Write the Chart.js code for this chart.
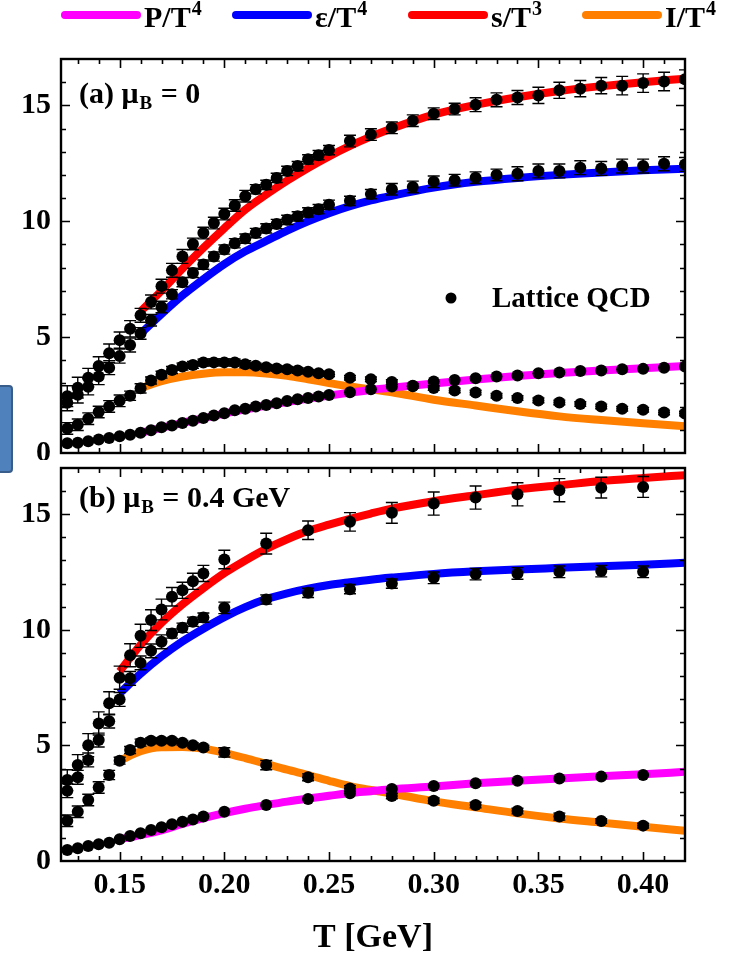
<!DOCTYPE html>
<html>
<head>
<meta charset="utf-8">
<script src="https://cdn.jsdelivr.net/npm/chart.js@4.4.1/dist/chart.umd.min.js"></script>
<style>
  html, body { margin: 0; padding: 0; background: #fff; }
  body { width: 733px; height: 955px; position: relative; overflow: hidden; }
  #c1 { position: absolute; left: 0; top: 0; }
  #c2 { position: absolute; left: 0; top: 460px; }
  #box { position: absolute; left: -6px; top: 385px; width: 15px; height: 84px;
         background: #4f81bd; border: 2px solid #385d8a; border-radius: 4px; z-index: 5; }
</style>
</head>
<body>
<canvas id="c1" width="733" height="460"></canvas>
<canvas id="c2" width="733" height="495"></canvas>
<div id="box"></div>
<script>
// ---------------- DATA ----------------
const xTickValues = [0.15, 0.20, 0.25, 0.30, 0.35, 0.40];
const xTickLabels = ['0.15', '0.20', '0.25', '0.30', '0.35', '0.40'];
const yTickValues = [0, 5, 10, 15];
const yTickLabels = ['0', '5', '10', '15'];
const seriesBase = ['P/T', 'ε/T', 's/T', 'I/T'];
const seriesSup  = ['4', '4', '3', '4'];
const axisTitle = 'T [GeV]';
const latticeLabel = 'Lattice QCD';

// Panel (a): mu_B = 0  -- lattice points
const tLatA = [0.125, 0.13, 0.135, 0.14, 0.145, 0.15, 0.155, 0.16, 0.165, 0.17, 0.175, 0.18, 0.185, 0.19, 0.195,
               0.20, 0.205, 0.21, 0.215, 0.22, 0.225, 0.23, 0.235, 0.24, 0.245, 0.25, 0.26, 0.27, 0.28, 0.29,
               0.30, 0.31, 0.32, 0.33, 0.34, 0.35, 0.36, 0.37, 0.38, 0.39, 0.40, 0.41, 0.42];
const sLatA = [2.45, 2.82, 3.25, 3.75, 4.30, 4.87, 5.36, 5.94, 6.52, 7.20, 7.88, 8.48, 9.02, 9.49, 9.92,
               10.31, 10.68, 11.08, 11.38, 11.57, 11.87, 12.17, 12.38, 12.67, 12.85, 13.07, 13.46, 13.74, 14.03, 14.34,
               14.64, 14.84, 15.03, 15.24, 15.34, 15.43, 15.65, 15.72, 15.85, 15.85, 15.96, 16.03, 16.13];
const eLatA = [2.17, 2.51, 2.86, 3.30, 3.68, 4.18, 4.66, 5.16, 5.73, 6.30, 6.85, 7.37, 7.77, 8.13, 8.48,
               8.78, 9.05, 9.25, 9.49, 9.69, 9.88, 10.06, 10.21, 10.38, 10.52, 10.71, 10.88, 11.17, 11.38, 11.48,
               11.70, 11.77, 11.88, 12.00, 12.05, 12.17, 12.17, 12.31, 12.28, 12.38, 12.38, 12.48, 12.45];
const iLatA = [1.06, 1.22, 1.48, 1.77, 2.01, 2.25, 2.47, 2.79, 3.13, 3.38, 3.58, 3.73, 3.80, 3.90, 3.91,
               3.91, 3.90, 3.83, 3.76, 3.70, 3.65, 3.61, 3.56, 3.51, 3.44, 3.40, 3.25, 3.18, 3.06, 2.90,
               2.80, 2.70, 2.61, 2.47, 2.37, 2.27, 2.18, 2.11, 2.01, 1.91, 1.87, 1.75, 1.70];
const pLatA = [0.42, 0.44, 0.51, 0.58, 0.65, 0.72, 0.79, 0.87, 0.98, 1.11, 1.19, 1.29, 1.39, 1.51, 1.62,
               1.72, 1.84, 1.91, 2.01, 2.07, 2.15, 2.24, 2.32, 2.37, 2.44, 2.50, 2.62, 2.75, 2.87, 2.88,
               3.08, 3.15, 3.23, 3.30, 3.34, 3.44, 3.47, 3.54, 3.56, 3.61, 3.63, 3.68, 3.73];
const sErrA = [0.45, 0.45, 0.40, 0.40, 0.40, 0.35, 0.35, 0.30, 0.30, 0.30, 0.30, 0.30, 0.25, 0.25, 0.25,
               0.25, 0.25, 0.25, 0.20, 0.20, 0.20, 0.20, 0.20, 0.20, 0.20, 0.20, 0.25, 0.25, 0.25, 0.25,
               0.25, 0.25, 0.30, 0.30, 0.30, 0.35, 0.35, 0.35, 0.35, 0.40, 0.40, 0.40, 0.40];
const eErrA = [0.35, 0.35, 0.35, 0.35, 0.30, 0.30, 0.30, 0.25, 0.25, 0.25, 0.20, 0.20, 0.20, 0.20, 0.20,
               0.20, 0.20, 0.20, 0.20, 0.20, 0.20, 0.20, 0.20, 0.20, 0.20, 0.20, 0.20, 0.20, 0.25, 0.25,
               0.25, 0.25, 0.25, 0.25, 0.30, 0.30, 0.30, 0.30, 0.30, 0.30, 0.30, 0.30, 0.30];
const iErrA = [0.25, 0.25, 0.25, 0.25, 0.25, 0.25, 0.20, 0.20, 0.15, 0.15, 0.15, 0.15, 0.15, 0.15, 0.15,
               0.15, 0.15, 0.15, 0.12, 0.12, 0.12, 0.12, 0.12, 0.10, 0.10, 0.10, 0.10, 0.10, 0.10, 0.10,
               0.10, 0.10, 0.10, 0.10, 0.10, 0.10, 0.10, 0.10, 0.10, 0.10, 0.10, 0.10, 0.10];

// Panel (a): model curves
const tModA = [0.16, 0.17, 0.18, 0.19, 0.20, 0.21, 0.22, 0.23, 0.24, 0.25, 0.26, 0.27, 0.28, 0.30, 0.32, 0.34, 0.36, 0.38, 0.40, 0.42];
const sModA = [6.10, 7.00, 7.95, 8.85, 9.70, 10.50, 11.15, 11.75, 12.30, 12.80, 13.25, 13.65, 14.00, 14.60, 15.02, 15.35, 15.62, 15.83, 16.00, 16.15];
const eModA = [5.15, 6.00, 6.80, 7.50, 8.15, 8.70, 9.15, 9.60, 10.00, 10.35, 10.65, 10.90, 11.10, 11.45, 11.70, 11.87, 12.00, 12.10, 12.20, 12.27];
const iModA = [2.80, 3.10, 3.30, 3.42, 3.48, 3.48, 3.43, 3.33, 3.18, 3.02, 2.87, 2.75, 2.62, 2.30, 2.05, 1.80, 1.58, 1.42, 1.28, 1.15];
const pModA = [0.87, 1.08, 1.30, 1.50, 1.70, 1.88, 2.05, 2.20, 2.35, 2.48, 2.60, 2.72, 2.82, 3.00, 3.17, 3.32, 3.45, 3.56, 3.66, 3.75];

// Panel (b): mu_B = 0.4 GeV -- lattice points
const tLatB = [0.125, 0.13, 0.135, 0.14, 0.145, 0.15, 0.155, 0.16, 0.165, 0.17, 0.175, 0.18, 0.185, 0.19,
               0.20, 0.22, 0.24, 0.26, 0.28, 0.30, 0.32, 0.34, 0.36, 0.38, 0.40];
const sLatB = [3.50, 4.15, 5.01, 5.95, 6.82, 7.93, 8.90, 9.74, 10.42, 10.88, 11.43, 11.71, 12.10, 12.44,
               13.04, 13.73, 14.31, 14.67, 15.06, 15.46, 15.72, 15.86, 16.04, 16.15, 16.18];
const eLatB = [3.04, 3.62, 4.37, 5.23, 6.05, 6.99, 7.90, 8.57, 9.09, 9.48, 9.84, 10.09, 10.35, 10.53,
               10.95, 11.31, 11.60, 11.76, 12.00, 12.25, 12.41, 12.44, 12.51, 12.54, 12.51];
const iLatB = [1.74, 2.13, 2.64, 3.18, 3.72, 4.34, 4.80, 5.12, 5.20, 5.20, 5.20, 5.12, 5.01, 4.91,
               4.70, 4.15, 3.62, 3.14, 2.81, 2.61, 2.42, 2.16, 1.92, 1.73, 1.53];
const pLatB = [0.48, 0.55, 0.65, 0.72, 0.79, 0.94, 1.08, 1.20, 1.34, 1.46, 1.59, 1.70, 1.80, 1.92,
               2.13, 2.42, 2.68, 2.93, 3.11, 3.24, 3.36, 3.47, 3.57, 3.65, 3.72];
const sErrB = [0.45, 0.45, 0.50, 0.50, 0.50, 0.50, 0.50, 0.50, 0.45, 0.45, 0.40, 0.35, 0.35, 0.35,
               0.40, 0.45, 0.40, 0.40, 0.45, 0.50, 0.50, 0.50, 0.50, 0.45, 0.45];
const eErrB = [0.30, 0.30, 0.30, 0.30, 0.30, 0.30, 0.30, 0.30, 0.30, 0.30, 0.20, 0.20, 0.20, 0.20,
               0.25, 0.20, 0.20, 0.20, 0.20, 0.25, 0.25, 0.25, 0.25, 0.25, 0.25];
const iErrB = [0.25, 0.25, 0.25, 0.25, 0.20, 0.15, 0.15, 0.15, 0.12, 0.12, 0.10, 0.10, 0.10, 0.10,
               0.20, 0.20, 0.15, 0.12, 0.12, 0.12, 0.12, 0.12, 0.15, 0.10, 0.10];

// Panel (b): model curves
const tModB = [0.15, 0.16, 0.17, 0.18, 0.19, 0.20, 0.21, 0.22, 0.23, 0.24, 0.25, 0.26, 0.27, 0.28, 0.30, 0.32, 0.34, 0.36, 0.38, 0.40, 0.42];
const sModB = [8.20, 9.35, 10.30, 11.10, 11.80, 12.45, 13.00, 13.50, 13.92, 14.28, 14.55, 14.80, 15.03, 15.24, 15.56, 15.82, 16.07, 16.25, 16.44, 16.57, 16.69];
const eModB = [7.25, 8.10, 8.85, 9.50, 10.05, 10.55, 10.98, 11.33, 11.58, 11.78, 11.94, 12.06, 12.17, 12.26, 12.42, 12.53, 12.61, 12.68, 12.75, 12.82, 12.90];
const iModB = [4.34, 4.75, 4.92, 4.93, 4.86, 4.68, 4.45, 4.20, 3.95, 3.72, 3.47, 3.24, 3.07, 2.92, 2.58, 2.32, 2.06, 1.84, 1.66, 1.48, 1.31];
const pModB = [0.94, 1.12, 1.32, 1.60, 1.85, 2.07, 2.26, 2.42, 2.57, 2.70, 2.82, 2.94, 3.02, 3.10, 3.22, 3.36, 3.47, 3.57, 3.67, 3.75, 3.86];

// ---------------- STYLE ----------------
const FONT = '"Liberation Serif", "Times New Roman", serif';
const seriesColors = ['#ff00ff', '#0000ff', '#ff0000', '#ff8000'];
const X_MIN = 0.122, X_MAX = 0.42, Y_MIN = 0, Y_MAX = 17;

const pts = (xs, ys) => xs.map((x, i) => ({ x: x, y: ys[i] }));

function curve(xs, ys, k) {
  return { label: seriesBase[k] + seriesSup[k], data: pts(xs, ys), showLine: true,
           borderColor: seriesColors[k], backgroundColor: seriesColors[k], borderWidth: 8,
           pointRadius: 0, cubicInterpolationMode: 'monotone', borderCapStyle: 'butt', order: 2 };
}
function lattice(xs, ys, errs, name) {
  return { label: name, data: pts(xs, ys), errors: errs, showLine: false,
           pointRadius: 6, pointBackgroundColor: '#000', pointBorderWidth: 0, order: 1 };
}

function drawSupText(ctx, x, y, base, sup, size) {
  ctx.font = 'bold ' + size + 'px ' + FONT;
  ctx.fillText(base, x, y);
  const w = ctx.measureText(base).width;
  ctx.font = 'bold ' + Math.round(size * 0.65) + 'px ' + FONT;
  ctx.fillText(sup, x + w + 1, y - size * 0.4);
  return w + 1 + ctx.measureText(sup).width;
}

const errorBars = {
  id: 'errorBars',
  afterDatasetsDraw(chart) {
    const { ctx, chartArea: a, scales: { x, y } } = chart;
    ctx.save();
    ctx.beginPath(); ctx.rect(a.left, a.top, a.right - a.left, a.bottom - a.top); ctx.clip();
    ctx.strokeStyle = '#000'; ctx.lineWidth = 1.4;
    chart.data.datasets.forEach(ds => {
      if (!ds.errors) return;
      ds.data.forEach((p, j) => {
        const e = ds.errors[j];
        const px = x.getPixelForValue(p.x);
        const y1 = y.getPixelForValue(p.y + e), y0 = y.getPixelForValue(p.y - e);
        ctx.beginPath();
        ctx.moveTo(px, y0); ctx.lineTo(px, y1);
        ctx.moveTo(px - 6, y0); ctx.lineTo(px + 6, y0);
        ctx.moveTo(px - 6, y1); ctx.lineTo(px + 6, y1);
        ctx.stroke();
      });
    });
    ctx.restore();
  }
};

const frameTicks = {
  id: 'frameTicks',
  afterDatasetsDraw(chart) {
    const { ctx, chartArea: a, scales: { x, y } } = chart;
    ctx.save();
    ctx.strokeStyle = '#000'; ctx.lineWidth = 1.6;
    ctx.beginPath();
    for (let k = 13; k <= 41; k++) {
      const v = k / 100;
      const px = Math.round(x.getPixelForValue(v)) + 0.5;
      const major = xTickValues.some(t => Math.abs(t - v) < 1e-9);
      const L = major ? 9 : 5;
      ctx.moveTo(px, a.bottom); ctx.lineTo(px, a.bottom - L);
      ctx.moveTo(px, a.top); ctx.lineTo(px, a.top + L);
    }
    for (let k = 1; k <= 16; k++) {
      const py = Math.round(y.getPixelForValue(k)) + 0.5;
      const major = yTickValues.includes(k);
      const L = major ? 9 : 5;
      ctx.moveTo(a.left, py); ctx.lineTo(a.left + L, py);
      ctx.moveTo(a.right, py); ctx.lineTo(a.right - L, py);
    }
    ctx.stroke();
    ctx.lineWidth = 2.4;
    ctx.strokeRect(a.left, a.top, a.right - a.left, a.bottom - a.top);
    ctx.restore();
  }
};

const annotations = {
  id: 'annotations',
  afterDraw(chart) {
    const { ctx, chartArea: a } = chart;
    const o = chart.options.plugins.annotations;
    ctx.save();
    ctx.fillStyle = '#000'; ctx.textBaseline = 'alphabetic'; ctx.textAlign = 'left';
    // panel label
    let x = a.left + 18, y = a.top + o.labelDy;
    ctx.font = 'bold 30px ' + FONT;
    ctx.fillText(o.prefix, x, y);
    x += ctx.measureText(o.prefix).width;
    ctx.font = 'bold 19px ' + FONT;
    ctx.fillText('B', x + 1, y + 6);
    x += ctx.measureText('B').width + 2;
    ctx.font = 'bold 30px ' + FONT;
    ctx.fillText(o.suffix, x, y);
    if (o.lattice) {
      ctx.beginPath(); ctx.arc(451, 298, 5.5, 0, Math.PI * 2); ctx.fill();
      ctx.font = 'bold 29px ' + FONT;
      ctx.textBaseline = 'middle';
      ctx.fillText(latticeLabel, 492, 300);
    }
    if (o.legend) {
      const lineX = [61, 232, 408, 582];
      ctx.textBaseline = 'alphabetic';
      for (let k = 0; k < 4; k++) {
        ctx.strokeStyle = seriesColors[k]; ctx.lineWidth = 8; ctx.lineCap = 'round';
        ctx.beginPath(); ctx.moveTo(lineX[k] + 4, 15); ctx.lineTo(lineX[k] + 76, 15); ctx.stroke();
        ctx.fillStyle = '#000';
        drawSupText(ctx, lineX[k] + 83, 27, seriesBase[k], seriesSup[k], 30);
      }
    }
    ctx.restore();
  }
};

function makeChart(canvas, cfg) {
  return new Chart(canvas, {
    type: 'scatter',
    data: { datasets: cfg.datasets },
    plugins: [errorBars, frameTicks, annotations],
    options: {
      responsive: false, animation: false, devicePixelRatio: 1,
      layout: { padding: { left: 0, right: 48, top: cfg.topPad, bottom: 0 } },
      plugins: { legend: { display: false }, tooltip: { enabled: false }, annotations: cfg.ann },
      scales: {
        x: {
          type: 'linear', min: X_MIN, max: X_MAX,
          afterBuildTicks: s => { s.ticks = xTickValues.map(v => ({ value: v })); },
          afterFit: s => { s.height = cfg.xHeight; s.paddingLeft = 0; s.paddingRight = 0; },
          grid: { display: false, drawTicks: false }, border: { display: false },
          ticks: { display: cfg.showX, padding: 6, color: '#000', maxRotation: 0, autoSkip: false,
                   font: { family: FONT, size: 30, weight: 'bold' },
                   callback: (v, i) => xTickLabels[i] },
          title: { display: cfg.showX, text: axisTitle, color: '#000', padding: { top: 0, bottom: -4 },
                   font: { family: FONT, size: 34, weight: 'bold' } }
        },
        y: {
          type: 'linear', min: Y_MIN, max: Y_MAX,
          afterBuildTicks: s => { s.ticks = yTickValues.map(v => ({ value: v })); },
          afterFit: s => { s.width = 61; s.paddingTop = 0; s.paddingBottom = 0; },
          grid: { display: false, drawTicks: false }, border: { display: false },
          ticks: { padding: 10, color: '#000', font: { family: FONT, size: 30, weight: 'bold' },
                   callback: (v, i) => yTickLabels[i] }
        }
      }
    }
  });
}

makeChart(document.getElementById('c1'), {
  topPad: 59, xHeight: 7, showX: false,
  ann: { prefix: '(a) μ', suffix: ' = 0', labelDy: 44, lattice: true, legend: true },
  datasets: [
    lattice(tLatA, sLatA, sErrA, latticeLabel),
    lattice(tLatA, eLatA, eErrA, latticeLabel),
    lattice(tLatA, iLatA, iErrA, latticeLabel),
    lattice(tLatA, pLatA, null, latticeLabel),
    curve(tModA, pModA, 0), curve(tModA, eModA, 1), curve(tModA, sModA, 2), curve(tModA, iModA, 3)
  ]
});

makeChart(document.getElementById('c2'), {
  topPad: 8, xHeight: 94, showX: true,
  ann: { prefix: '(b) μ', suffix: ' = 0.4 GeV', labelDy: 39, lattice: false, legend: false },
  datasets: [
    lattice(tLatB, sLatB, sErrB, latticeLabel),
    lattice(tLatB, eLatB, eErrB, latticeLabel),
    lattice(tLatB, iLatB, iErrB, latticeLabel),
    lattice(tLatB, pLatB, null, latticeLabel),
    curve(tModB, pModB, 0), curve(tModB, eModB, 1), curve(tModB, sModB, 2), curve(tModB, iModB, 3)
  ]
});
</script>
</body>
</html>
